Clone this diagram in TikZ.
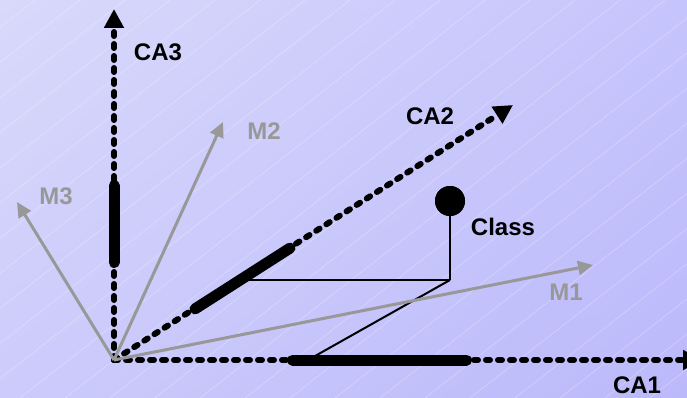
\documentclass[tikz,border=0pt]{standalone}
\usepackage{fontspec}
\setmainfont{Liberation Sans}
\usetikzlibrary{arrows.meta,shadings}
\definecolor{mgray}{RGB}{152,152,152}
\definecolor{bgUL}{RGB}{217,217,251}
\definecolor{bgUR}{RGB}{198,196,252}
\definecolor{bgLL}{RGB}{204,203,251}
\definecolor{bgLR}{RGB}{187,185,250}
\begin{document}
\begin{tikzpicture}[x=1pt,y=1pt,
  axis/.style={line width=6pt, dash pattern=on 4pt off 8pt, line cap=round,
    -{Triangle[length=19pt,width=19pt]}},
  thickseg/.style={line width=11pt, line cap=round},
  marrow/.style={mgray, line width=3pt, -{Triangle[length=15pt,width=14pt]}},
  proj/.style={line width=2pt},
  hatch/.style={white, opacity=0.35, line width=0.5pt},
  lab/.style={inner sep=0pt, font=\fontsize{24}{24}\selectfont\bfseries},
  mlab/.style={lab, text=mgray},
  dot/.style={circle, fill=black, minimum size=30pt, inner sep=0pt}]
\useasboundingbox (0,0) rectangle (687,-398);
\clip (0,0) rectangle (687,-398);
\shade[upper left=bgUL, upper right=bgUR, lower left=bgLL, lower right=bgLR] (0,0) rectangle (687,-398);
\foreach \k in {-12,...,16} \draw[hatch] (-25+45*\k,-398) -- ++(510,398);
% coordinates
\coordinate (O) at (114,-360);
\coordinate (ca1tip) at (702,-360);
\coordinate (ca2tip) at (513,-105);
\coordinate (ca3tip) at (114,-9);
\coordinate (m1tip) at (593,-265);
\coordinate (m2tip) at (223,-122);
\coordinate (m3tip) at (17,-202);
\coordinate (P) at (450,-280);
\coordinate (Q2) at (239,-280);
\coordinate (Q1) at (308,-360);
\coordinate (t1a) at (292.5,-360);
\coordinate (t1b) at (466.5,-360);
\coordinate (t2a) at (195,-308.9);
\coordinate (t2b) at (290,-248.1);
\coordinate (t3a) at (114,-185.5);
\coordinate (t3b) at (114,-262.5);
\node[dot] (class) at (450,-201) {};
% axes
\draw[axis] (O) -- (ca1tip);
\draw[axis] (O) -- (ca2tip);
\draw[axis] (O) -- (ca3tip);
% projections
\draw[proj] (class.center) -- (P);
\draw[proj] (P) -- (Q2);
\draw[proj] (P) -- (Q1);
% gray arrows
\draw[marrow] (O) -- (m1tip);
\draw[marrow] (O) -- (m2tip);
\draw[marrow] (O) -- (m3tip);
% thick segments
\draw[thickseg] (t1a) -- (t1b);
\draw[thickseg] (t2a) -- (t2b);
\draw[thickseg] (t3a) -- (t3b);
\node[dot] at (class) {};
% labels
\node[lab] (lca3) at (158,-52) {CA3};
\node[lab] (lca2) at (430,-116) {CA2};
\node[lab] (lca1) at (637,-385) {CA1};
\node[lab] (lclass) at (503,-227) {Class};
\node[mlab] (lm1) at (566,-292) {M1};
\node[mlab] (lm2) at (264,-131) {M2};
\node[mlab] (lm3) at (56,-196) {M3};
\end{tikzpicture}
\end{document}
